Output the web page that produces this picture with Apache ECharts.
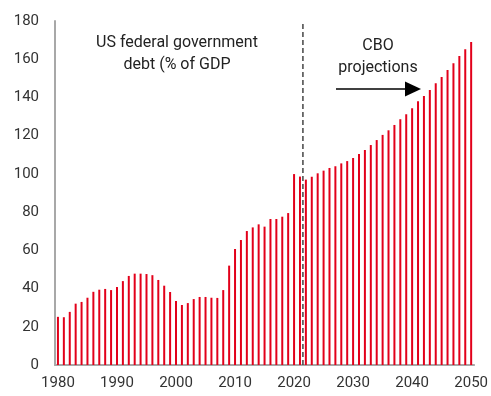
<!DOCTYPE html>
<html>
<head>
<meta charset="utf-8">
<script src="https://cdn.jsdelivr.net/npm/echarts@6/dist/echarts.min.js"></script>
<style>html,body{margin:0;padding:0;background:#fff;}#c{width:491px;height:396px;}</style>
</head>
<body>
<div id="c"></div>
<script>
var years = [];
for (var y = 1980; y <= 2050; y++) years.push(String(y));
var debt = [
  25.2, 25.0, 27.8, 32.1, 33.0, 35.2, 38.3, 39.4, 39.8, 39.2,
  40.8, 43.9, 46.6, 47.8, 47.8, 47.6, 47.0, 44.5, 41.5, 38.2,
  33.5, 31.4, 32.4, 34.5, 35.6, 35.6, 35.2, 35.1, 39.2, 52.0,
  60.7, 65.4, 70.1, 72.0, 73.6, 72.4, 76.4, 76.4, 77.6, 79.5,
  99.9, 98.6, 97.0, 98.5, 100.3, 101.7, 103.1, 104.0, 105.5, 106.7,
  108.3, 110.4, 112.5, 115.1, 117.7, 120.4, 122.8, 125.6, 128.6, 131.2,
  134.3, 138.0, 140.8, 143.9, 147.4, 150.7, 154.4, 157.9, 161.7, 165.2,
  169.0
];
var yTicks = [0, 20, 40, 60, 80, 100, 120, 140, 160, 180];
var projectionStart = 42; // boundary between 2021 and 2022 (category index)
var label1 = 'US federal government\ndebt (% of GDP';
var label2 = 'CBO\nprojections';

var chart = echarts.init(document.getElementById('c'), null, {renderer: 'canvas'});
var font = 'Roboto, "Liberation Sans", sans-serif';
chart.setOption({
  animation: false,
  grid: {left: 55, right: 15, top: 21, bottom: 31, containLabel: false},
  xAxis: [{
    type: 'category',
    data: years,
    boundaryGap: true,
    axisLine: {show: true, lineStyle: {color: '#a8a8a8', width: 2}},
    axisTick: {show: false},
    axisLabel: {
      interval: function (i, v) { return Number(v) % 10 === 0; },
      color: '#333', fontSize: 15, fontFamily: font, margin: 11
    },
    splitLine: {show: false}
  }, {
    type: 'value', min: 0, max: years.length, show: false
  }],
  yAxis: [{
    type: 'value', min: yTicks[0], max: yTicks[yTicks.length - 1], interval: 20,
    axisLine: {show: true, lineStyle: {color: '#a8a8a8', width: 2}},
    axisTick: {show: false},
    axisLabel: {color: '#333', fontSize: 15, fontFamily: font, margin: 16},
    splitLine: {show: false}
  }],
  series: [{
    type: 'bar',
    data: debt,
    barWidth: 2,
    itemStyle: {color: '#e2001a'},
    xAxisIndex: 0, yAxisIndex: 0
  }, {
    type: 'line',
    xAxisIndex: 1, yAxisIndex: 0,
    data: [[projectionStart, 0], [projectionStart, 180]],
    symbol: 'none',
    lineStyle: {color: '#444', width: 1.5, type: [5, 3]},
    z: 5
  }],
  graphic: [
    {type: 'text', x: 177, y: 32, style: {text: label1, fill: '#222', font: '16px ' + font, textAlign: 'center', lineHeight: 22}},
    {type: 'text', x: 378, y: 35, style: {text: label2, fill: '#222', font: '16px ' + font, textAlign: 'center', lineHeight: 22}},
    {type: 'line', shape: {x1: 336, y1: 89, x2: 407, y2: 89}, style: {stroke: '#000', lineWidth: 1.5}},
    {type: 'polygon', shape: {points: [[405, 81.5], [421, 89], [405, 96.5]]}, style: {fill: '#000'}}
  ]
});
</script>
</body>
</html>
